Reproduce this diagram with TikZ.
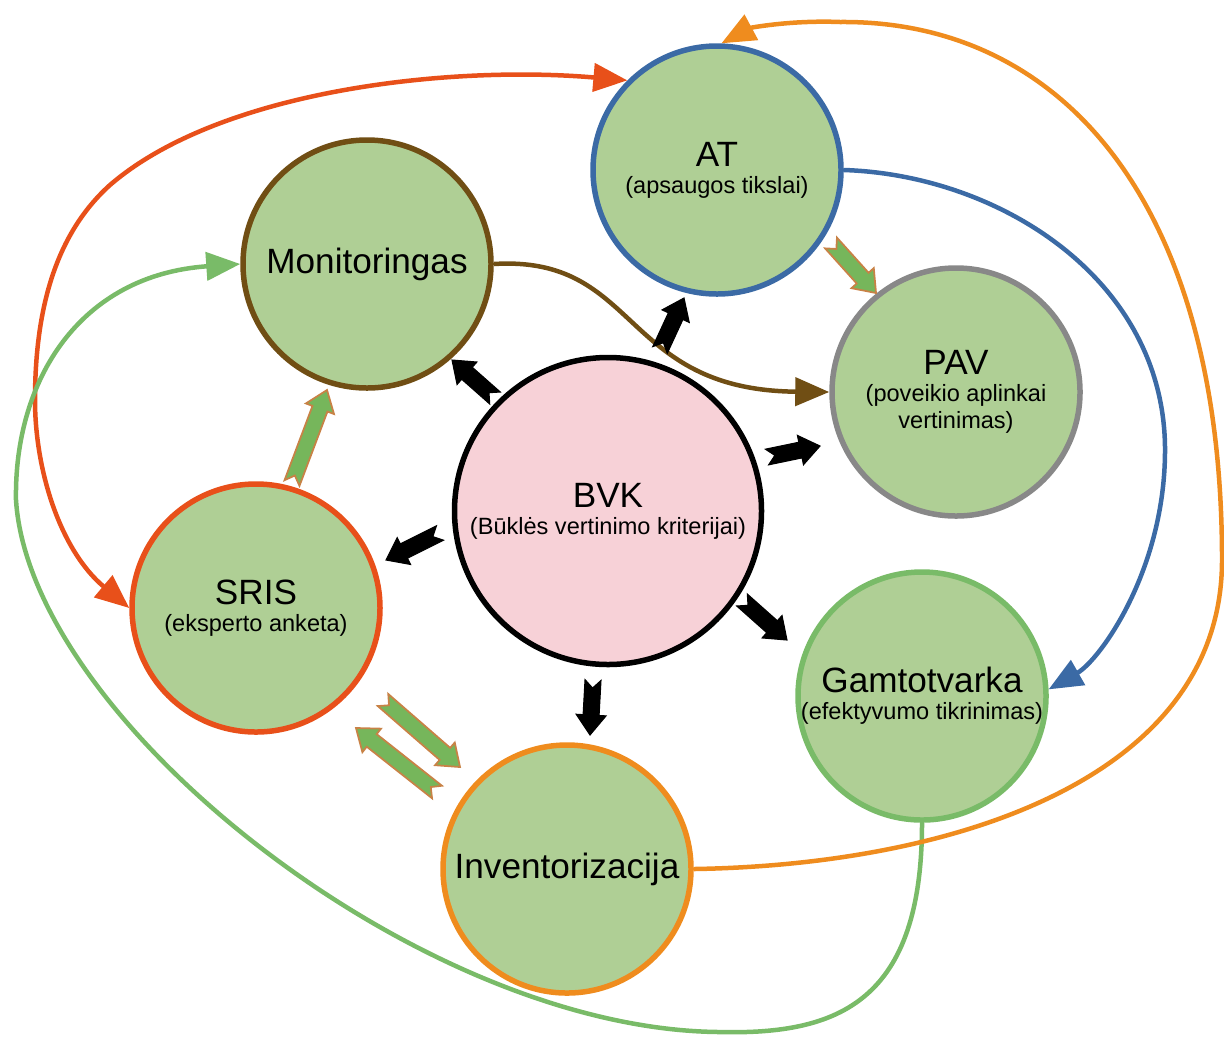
\documentclass[tikz,border=0pt]{standalone}
\usepackage{fontspec}
\setmainfont{Liberation Sans}
\usetikzlibrary{arrows.meta,calc,positioning}

\definecolor{blobgreen}{RGB}{175,207,149}
\definecolor{blobpink}{RGB}{247,209,215}
\definecolor{atblue}{RGB}{59,106,165}
\definecolor{monbrown}{RGB}{112,78,20}
\definecolor{pavgray}{RGB}{136,136,136}
\definecolor{srisred}{RGB}{232,80,26}
\definecolor{gamgreen}{RGB}{121,187,104}
\definecolor{invorange}{RGB}{239,140,30}
\definecolor{fatgreen}{RGB}{118,182,91}
\definecolor{fatedge}{RGB}{200,130,70}

\newcommand{\subf}{\fontsize{6.7}{7.7}\selectfont}

% notched block arrow from #2 (tail) to #3 (tip)
\newcommand{\fatarrow}[3][]{%
  \coordinate (fa-h) at ($(#3)!2mm!(#2)$);
  \filldraw[#1] ($(#2)!0.8mm!90:(#3)$) -- ($(fa-h)!0.8mm!-90:(#2)$)
    -- ($(fa-h)!1.5mm!-90:(#2)$) -- (#3) -- ($(fa-h)!1.5mm!90:(#2)$)
    -- ($(fa-h)!0.8mm!90:(#2)$) -- ($(#2)!0.8mm!-90:(#3)$)
    -- ($(#2)!0.8mm!(#3)$) -- cycle;
}

\tikzset{
  blob/.style={circle, fill=blobgreen, line width=0.55mm, minimum size=24.8mm,
    inner sep=0pt, align=center, font=\fontsize{10}{7.7}\selectfont},
  link/.style={line width=0.45mm},
  blackarrow/.style={fill=black, draw=black, line width=0.3pt},
  greenarrow/.style={fill=fatgreen, draw=fatedge, line width=0.5pt}
}

\begin{document}
\begin{tikzpicture}[x=0.1mm, y=-0.1mm, >={Triangle[length=3.4mm,width=2.8mm]}]
	\useasboundingbox (0,0) rectangle (1224,1038);

	\node [blob, fill=blobpink, draw=black, minimum size=30.7mm] (bvk) at (608,511) {BVK\\{\subf (Būklės vertinimo kriterijai)}};
	\node [blob, draw=atblue] (at) at (717,170) {AT\\{\subf (apsaugos tikslai)}};
	\node [blob, draw=monbrown] (mon) at (367,264) {Monitoringas};
	\node [blob, draw=pavgray] (pav) at (956,392) {PAV\\{\subf (poveikio aplinkai}\\{\subf vertinimas)}};
	\node [blob, draw=srisred] (sris) at (256,608) {SRIS\\{\subf (eksperto anketa)}};
	\node [blob, draw=gamgreen] (gam) at (922,696) {Gamtotvarka\\{\subf (efektyvumo tikrinimas)}};
	\node [blob, draw=invorange] (inv) at (567,869) {Inventorizacija};

	% curved links
	\draw [link, draw=srisred, <->] (sris.west) .. controls (60,550) and (35,470) .. (35,400)
		.. controls (35,300) and (60,230) .. (110,185)
		.. controls (220,90) and (450,65) .. (at.135);
	\draw [link, draw=gamgreen, ->] (gam.south) .. controls (922,1000) and (840,1035) .. (720,1032)
		.. controls (420,1030) and (30,720) .. (16,500)
		.. controls (14,380) and (80,275) .. (mon.west);
	\draw [link, draw=invorange, ->] (inv.east) .. controls (950,865) and (1222,780) .. (1222,560)
		.. controls (1222,200) and (1060,20) .. (840,22)
		.. controls (790,20) and (750,28) .. (at.88);
	\draw [link, draw=atblue, ->] (at.east) .. controls (1000,175) and (1165,280) .. (1165,450)
		.. controls (1165,570) and (1100,660) .. (gam.3);
	\draw [link, draw=monbrown, ->] (mon.east) .. controls (640,255) and (620,390) .. (pav.west);

	% block arrows
	\coordinate (bm0) at (495,398);  \coordinate (bm1) at (452,360);
	\coordinate (ba0) at (660,350);  \coordinate (ba1) at (684,298);
	\coordinate (bp0) at (767,457);  \coordinate (bp1) at (820,446);
	\coordinate (bg0) at (742,600);  \coordinate (bg1) at (787,640);
	\coordinate (bi0) at (593,680);  \coordinate (bi1) at (590,735);
	\coordinate (bs0) at (440,533);  \coordinate (bs1) at (386,560);
	\coordinate (sm0) at (292,483);  \coordinate (sm1) at (327,390);
	\coordinate (ap0) at (831,243);  \coordinate (ap1) at (876,293);
	\coordinate (si0) at (383,700);  \coordinate (si1) at (460,767);
	\coordinate (is0) at (437,792);  \coordinate (is1) at (356,728);

	\fatarrow[blackarrow]{bm0}{bm1}
	\fatarrow[blackarrow]{ba0}{ba1}
	\fatarrow[blackarrow]{bp0}{bp1}
	\fatarrow[blackarrow]{bg0}{bg1}
	\fatarrow[blackarrow]{bi0}{bi1}
	\fatarrow[blackarrow]{bs0}{bs1}
	\fatarrow[greenarrow]{sm0}{sm1}
	\fatarrow[greenarrow]{ap0}{ap1}
	\fatarrow[greenarrow]{si0}{si1}
	\fatarrow[greenarrow]{is0}{is1}
\end{tikzpicture}
\end{document}
